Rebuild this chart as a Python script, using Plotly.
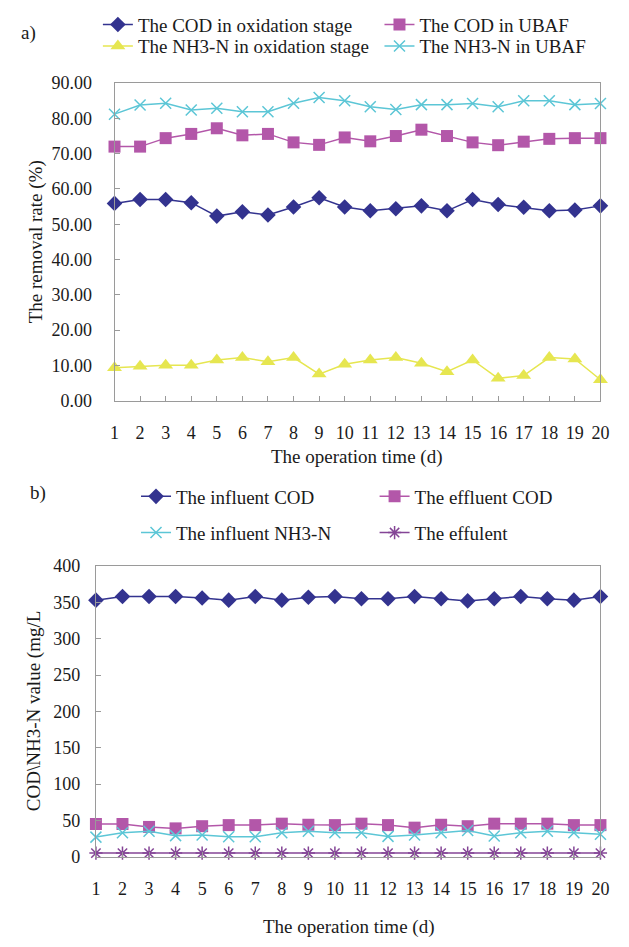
import plotly.graph_objects as go

days = list(range(1, 21))

# Panel a) removal rate (%)
cod_oxidation = [55.9, 57.0, 57.0, 56.1, 52.3, 53.5, 52.6, 54.9, 57.5, 54.9,
                 53.8, 54.4, 55.2, 53.8, 57.0, 55.6, 54.8, 53.8, 54.0, 55.2]
cod_ubaf = [72.0, 72.0, 74.4, 75.6, 77.2, 75.2, 75.6, 73.2, 72.5, 74.6,
            73.5, 75.0, 76.8, 75.0, 73.2, 72.4, 73.4, 74.2, 74.4, 74.4]
nh3_oxidation = [9.3, 9.7, 10.0, 10.0, 11.5, 12.2, 11.0, 12.2, 7.5, 10.3,
                 11.5, 12.2, 10.6, 8.2, 11.5, 6.3, 7.1, 12.2, 11.8, 5.9]
nh3_ubaf = [81.2, 83.8, 84.3, 82.4, 82.9, 81.9, 81.9, 84.3, 85.9, 85.0,
            83.3, 82.5, 83.9, 83.9, 84.2, 83.3, 85.0, 85.0, 83.9, 84.2]

# Panel b) concentration (mg/L)
influent_cod = [353, 358, 358, 358, 356, 353, 358, 353, 357, 358,
                355, 355, 358, 355, 352, 355, 358, 355, 353, 358]
effluent_cod = [45, 45, 41, 39, 42, 43.5, 43.5, 45.5, 44, 43.5,
                45.5, 43.5, 40, 44, 42, 45.5, 45.5, 45.5, 43.5, 43.5]
influent_nh3 = [27, 33, 35, 29, 30, 27.5, 27.5, 33, 35, 33,
                33, 28, 30, 33, 36, 28.5, 33, 35, 33, 31]
effluent_nh3 = [5] * 20

top_yticks = [0, 10, 20, 30, 40, 50, 60, 70, 80, 90]
bot_yticks = [0, 50, 100, 150, 200, 250, 300, 350, 400]

W, H = 629, 947
FONT = "Liberation Serif, Times New Roman, serif"
TXT = "#1a1a1a"
FRAME = "#9a9a9a"

NAVY = "#33338f"
MAG = "#b357a9"
YEL = "#e6e650"
CYAN = "#5cc6d6"
PURP = "#844596"

def px_x(p):
    return p / W

def px_y(p):
    return 1 - p / H

fig = go.Figure()

def add(x, y, name, color, symbol, size, xa, ya, legend, lw=1.5, mlw=0):
    fig.add_trace(go.Scatter(
        x=x, y=y, name=name, mode="lines+markers",
        line=dict(color=color, width=lw),
        marker=dict(symbol=symbol, size=size, color=color,
                    line=dict(color=color, width=mlw)),
        xaxis=xa, yaxis=ya, legend=legend, showlegend=True, cliponaxis=False,
    ))

add(days, cod_oxidation, "The COD in oxidation stage", NAVY, "diamond", 12, "x", "y", "legend")
add(days, cod_ubaf, "The COD in UBAF", MAG, "square", 12, "x", "y", "legend2")
add(days, nh3_oxidation, "The NH3-N in oxidation stage", YEL, "triangle-up", 13, "x", "y", "legend3")
add(days, nh3_ubaf, "The NH3-N in UBAF", CYAN, "x-thin-open", 11, "x", "y", "legend4", mlw=1.5)

add(days, influent_cod, "The influent COD", NAVY, "diamond", 12, "x2", "y2", "legend5")
add(days, effluent_cod, "The effluent COD", MAG, "square", 12, "x2", "y2", "legend6")
add(days, influent_nh3, "The influent NH3-N", CYAN, "x-thin-open", 11, "x2", "y2", "legend7", mlw=1.5)
add(days, effluent_nh3, "The effulent", PURP, "asterisk-open", 11, "x2", "y2", "legend8", mlw=1.5)

axis_common = dict(
    showgrid=False, zeroline=False, showline=True, linecolor=FRAME, linewidth=1,
    mirror=True, ticks="inside", ticklen=5, tickcolor=FRAME,
    tickfont=dict(family=FONT, size=18, color=TXT),
)

top_dom_x = [px_x(112), px_x(609)]
top_dom_y = [px_y(399), px_y(74.7)]
bot_dom_x = [px_x(93), px_x(609)]
bot_dom_y = [px_y(865), px_y(568)]

fig.update_layout(
    width=W, height=H,
    showlegend=True,
    margin=dict(l=0, r=0, t=0, b=0),
    paper_bgcolor="white", plot_bgcolor="white",
    font=dict(family=FONT, size=19, color=TXT),
    xaxis=dict(domain=top_dom_x, anchor="y", range=[1, 20], tickvals=days,
               ticklabelstandoff=16, **axis_common),
    yaxis=dict(domain=top_dom_y, anchor="x", range=[0, 90], tickvals=top_yticks,
               tickformat=".2f", ticklabelstandoff=18, **axis_common),
    xaxis2=dict(domain=bot_dom_x, anchor="y2", range=[1, 20], tickvals=days,
                ticklabelstandoff=16, **axis_common),
    yaxis2=dict(domain=bot_dom_y, anchor="x2", range=[0, 400], tickvals=bot_yticks,
                ticklabelstandoff=11, **axis_common),
)

leg_font = dict(family=FONT, size=19, color=TXT)
legend_pos = {
    "legend": (137, 15),
    "legend2": (425, 15),
    "legend3": (137, 37),
    "legend4": (425, 37),
    "legend5": (176, 497),
    "legend6": (420, 497),
    "legend7": (176, 534),
    "legend8": (420, 534),
}
for key, (tx, ty) in legend_pos.items():
    fig.update_layout({key: dict(
        x=px_x(tx - 42), y=px_y(ty), xanchor="left", yanchor="middle",
        xref="paper", yref="paper", bgcolor="rgba(0,0,0,0)", borderwidth=0,
        font=leg_font, itemwidth=30, tracegroupgap=0, visible=True,
    )})

ann_font = dict(family=FONT, size=19, color=TXT)
annotations = [
    dict(text="a)", x=px_x(14), y=px_y(24), xanchor="left", yanchor="middle"),
    dict(text="b)", x=px_x(24), y=px_y(493), xanchor="left", yanchor="middle"),
    dict(text="The operation time (d)", x=px_x(360), y=px_y(457), xanchor="center", yanchor="middle"),
    dict(text="The operation time (d)", x=px_x(351), y=px_y(937), xanchor="center", yanchor="middle"),
    dict(text="The removal rate (%)", x=px_x(32), y=px_y(237), xanchor="center", yanchor="middle", textangle=-90),
    dict(text="COD\\NH3-N value (mg/L", x=px_x(30), y=px_y(716), xanchor="center", yanchor="middle", textangle=-90),
]
for a in annotations:
    a.update(xref="paper", yref="paper", showarrow=False, font=ann_font)
fig.update_layout(annotations=annotations)

fig.write_html("out.html")
